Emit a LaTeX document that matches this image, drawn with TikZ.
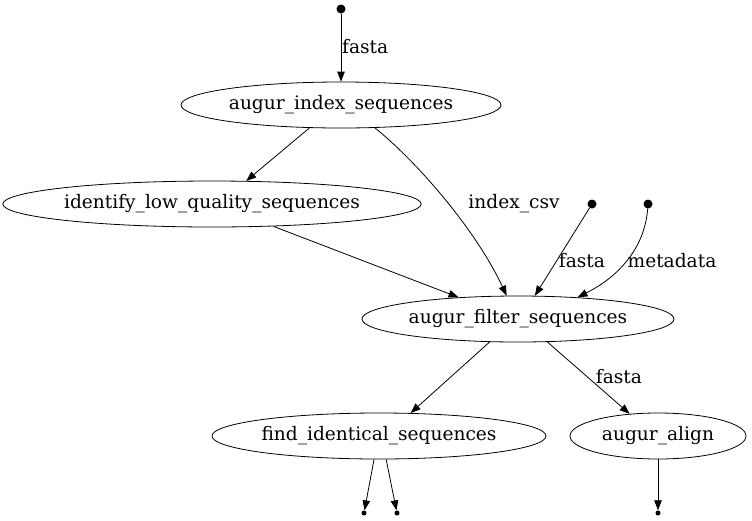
\documentclass[tikz,border=0pt]{standalone}
\usepackage{fontspec}
\setmainfont{DejaVu Serif}
\usetikzlibrary{shapes.geometric,arrows.meta}

\tikzset{
  job/.style={ellipse, draw, thick, inner sep=0pt, minimum height=46pt, font=\fontsize{18.6}{20}\selectfont},
  src/.style={circle, fill, inner sep=0pt, minimum size=9pt},
  sink/.style={circle, fill, inner sep=0pt, minimum size=5pt},
  elabel/.style={font=\fontsize{18.6}{20}\selectfont, inner sep=0pt},
  edge/.style={thick, -{Triangle[length=10pt,width=7.5pt]}}
}

\begin{document}
\begin{tikzpicture}[x=1pt,y=-1pt]
\useasboundingbox (0,0) rectangle (752,520);
\node[src] (p0) at (341,9) {};
\node[job, minimum width=320pt] (ais) at (341,105) {augur\_index\_sequences};
\node[job, minimum width=414pt] (ilq) at (212,204) {identify\_low\_quality\_sequences};
\node[src] (p1) at (592,204) {};
\node[src] (p2) at (648,204) {};
\node[job, minimum width=312pt] (afs) at (518,319) {augur\_filter\_sequences};
\node[job, minimum width=334pt] (fis) at (379,436) {find\_identical\_sequences};
\node[job, minimum width=176pt] (aal) at (658,436) {augur\_align};
\node[sink] (q0) at (364,513) {};
\node[sink] (q1) at (397,513) {};
\node[sink] (q2) at (658,513) {};

\draw[edge] (p0) -- (ais);
\draw[edge] (ais.216) -- (ilq.34);
\draw[edge] (ais.-34) .. controls (415,160) and (475,228) .. (afs.116);
\draw[edge] (ilq.-20) -- (afs.160);
\draw[edge] (p1) -- (afs.54);
\draw[edge] (p2) .. controls (645,245) and (622,275) .. (afs.20);
\draw[edge] (afs.-141) -- (fis.36);
\draw[edge] (afs.-38) -- (aal.142);
\draw[edge] (fis.-102) -- (q0);
\draw[edge] (fis.-73) -- (q1);
\draw[edge] (aal) -- (q2);

% edge labels
\node[elabel, anchor=west] (l0) at (342,47) {fasta};
\node[elabel] (l1) at (514,204) {index\_csv};
\node[elabel] (l2) at (582,261) {fasta};
\node[elabel] (l3) at (672,261) {metadata};
\node[elabel] (l4) at (619,377) {fasta};
\end{tikzpicture}
\end{document}
